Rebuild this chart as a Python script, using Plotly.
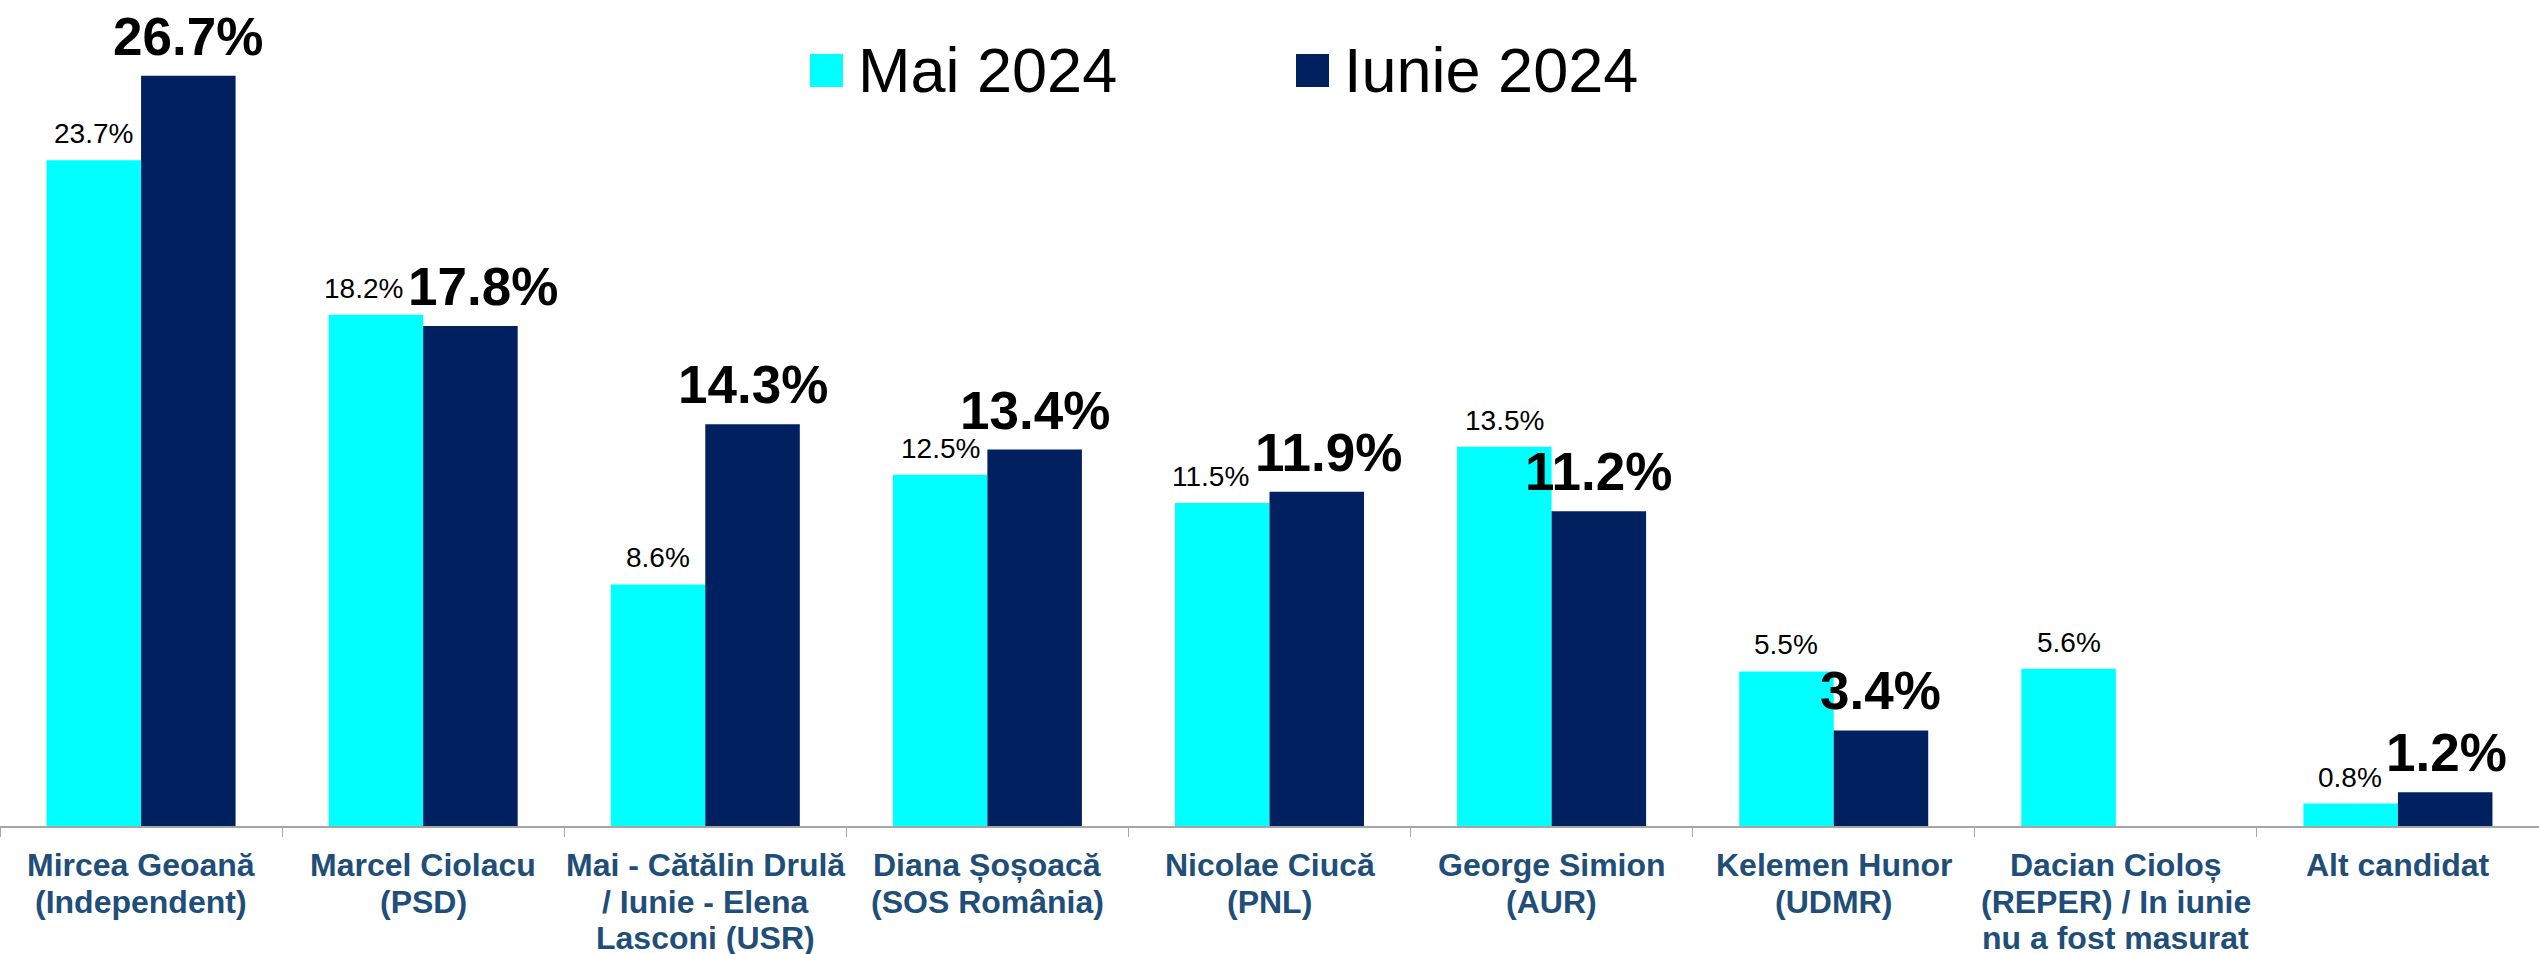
import plotly.graph_objects as go

categories = [
    "Mircea Geoană<br>(Independent)",
    "Marcel Ciolacu<br>(PSD)",
    "Mai - Cătălin Drulă<br>/ Iunie - Elena<br>Lasconi (USR)",
    "Diana Șoșoacă<br>(SOS România)",
    "Nicolae Ciucă<br>(PNL)",
    "George Simion<br>(AUR)",
    "Kelemen Hunor<br>(UDMR)",
    "Dacian Cioloș<br>(REPER) / In iunie<br>nu a fost masurat",
    "Alt candidat",
]
mai_2024 = [23.7, 18.2, 8.6, 12.5, 11.5, 13.5, 5.5, 5.6, 0.8]
iunie_2024 = [26.7, 17.8, 14.3, 13.4, 11.9, 11.2, 3.4, None, 1.2]
series_names = ["Mai 2024", "Iunie 2024"]

CYAN = "#00FFFF"
NAVY = "#002060"
LABEL_BLUE = "#1F4E79"
FONT = "Liberation Sans, Arial, sans-serif"

W, H = 2539, 954
MB = 128
PLOT_H = H - MB
YMAX = 29.4
PX_PER_UNIT = PLOT_H / YMAX
CAT_PX = W / len(categories)
BARGAP = 0.33
BAR_W = (1 - BARGAP) / 2  # in category units

SMALL = 28
BIG = 53
TICK_SIZE = 32
TICK_LINE_STEP = 36.5
TICK_FIRST_CENTER = 865


def text_width(s, size):
    w = {"%": 0.889, ".": 0.278}
    return sum(w.get(ch, 0.556) for ch in s) * size


def py(p):
    return 1 - p / PLOT_H


fig = go.Figure()
fig.add_trace(go.Bar(x=categories, y=mai_2024, name=series_names[0],
                     marker=dict(color=CYAN, line=dict(width=0))))
fig.add_trace(go.Bar(x=categories, y=iunie_2024, name=series_names[1],
                     marker=dict(color=NAVY, line=dict(width=0))))

annotations = []
for i, (a, b) in enumerate(zip(mai_2024, iunie_2024)):
    ta = f"{a:.1f}%" if a is not None else None
    tb = f"{b:.1f}%" if b is not None else None
    shift_a = shift_b = 0.0
    if ta and tb:
        ca = (i - BAR_W / 2) * CAT_PX
        cb = (i + BAR_W / 2) * CAT_PX
        wa = text_width(ta, SMALL)
        wb = text_width(tb, BIG)
        ya_base = a * PX_PER_UNIT + 17
        yb_base = b * PX_PER_UNIT + 23
        va = (ya_base - 6, ya_base + 0.72 * SMALL)
        vb = (yb_base - 11, yb_base + 0.72 * BIG)
        if va[0] < vb[1] and vb[0] < va[1]:
            overlap = (ca + wa / 2) - (cb - wb / 2) + 4
            if overlap > 0:
                shift_a = -overlap / 2
                shift_b = overlap / 2
    if ta:
        annotations.append(dict(x=i - BAR_W / 2, y=a, xref="x", yref="y", text=ta,
                                showarrow=False, yanchor="bottom", xanchor="center",
                                xshift=shift_a, yshift=9,
                                font=dict(family=FONT, size=SMALL, color="#000000")))
    if tb:
        annotations.append(dict(x=i + BAR_W / 2, y=b, xref="x", yref="y",
                                text=f"<b>{tb}</b>", showarrow=False,
                                yanchor="bottom", xanchor="center",
                                xshift=shift_b, yshift=8,
                                font=dict(family=FONT, size=BIG, color="#000000")))

# category labels, one annotation per line (tighter line spacing than tick labels)
for i, cat in enumerate(categories):
    for k, line in enumerate(cat.split("<br>")):
        annotations.append(dict(x=i, y=py(TICK_FIRST_CENTER + k * TICK_LINE_STEP),
                                xref="x", yref="paper", text=f"<b>{line}</b>",
                                showarrow=False, xanchor="center", yanchor="middle",
                                font=dict(family=FONT, size=TICK_SIZE, color=LABEL_BLUE)))

# manual legend
shapes = []
legend_items = [(series_names[0], CYAN, 810), (series_names[1], NAVY, 1296)]
for name, color, x0 in legend_items:
    shapes.append(dict(type="rect", xref="paper", yref="paper",
                       x0=x0 / W, x1=(x0 + 33) / W, y0=py(87), y1=py(54),
                       fillcolor=color, line=dict(width=0)))
    annotations.append(dict(x=(x0 + 46) / W, y=py(70), xref="paper", yref="paper",
                            text=name, showarrow=False, xanchor="left", yanchor="middle",
                            font=dict(family=FONT, size=63, color="#000000")))

fig.update_layout(
    width=W, height=H, autosize=False,
    margin=dict(l=0, r=0, t=0, b=MB, pad=0, autoexpand=False),
    barmode="group", bargap=BARGAP, bargroupgap=0,
    plot_bgcolor="white", paper_bgcolor="white",
    showlegend=False,
    annotations=annotations, shapes=shapes,
    font=dict(family=FONT),
)
fig.update_xaxes(
    automargin=False,
    showline=True, linecolor="#A6A6A6", linewidth=2,
    ticks="outside", tickson="boundaries", ticklen=9, tickcolor="#A6A6A6", tickwidth=1,
    showticklabels=False, showgrid=False,
)
fig.update_yaxes(automargin=False, range=[0, YMAX], visible=False,
                 showgrid=False, zeroline=False)

fig.write_html(
    "out.html",
    config={"displayModeBar": False},
    post_script="document.body.style.margin='0';document.body.style.overflow='hidden';",
)
